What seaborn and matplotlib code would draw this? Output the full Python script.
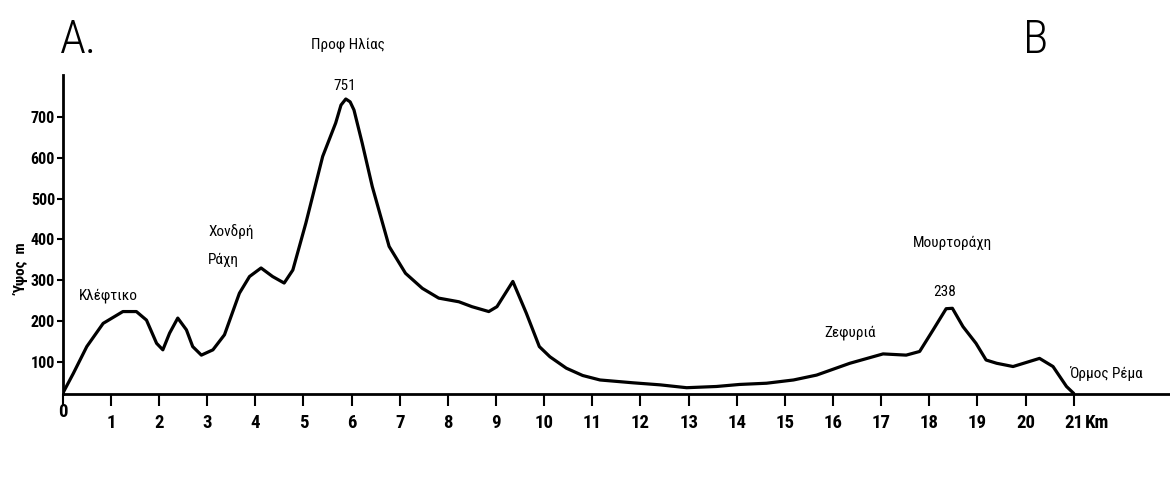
import matplotlib
matplotlib.use("Agg")
import matplotlib.pyplot as plt
import matplotlib.transforms as mtransforms
import pandas as pd
import seaborn as sns

# elevation profile
distance_km = [0, 0.22, 0.5, 0.84, 1.25, 1.53, 1.74, 1.95, 2.08, 2.22, 2.39, 2.57,
               2.70, 2.88, 3.12, 3.36, 3.67, 3.88, 4.12, 4.36, 4.60, 4.78, 5.05,
               5.40, 5.67, 5.78, 5.88, 5.97, 6.05, 6.22, 6.43, 6.78, 7.12, 7.47,
               7.81, 8.23, 8.50, 8.85, 9.02, 9.35, 9.63, 9.90, 10.12, 10.46, 10.80,
               11.16, 11.85, 12.41, 12.96, 13.58, 14.06, 14.62, 15.18, 15.66, 16.35,
               17.04, 17.52, 17.80, 18.08, 18.35, 18.48, 18.70, 18.97, 19.18, 19.40,
               19.74, 20.29, 20.57, 20.85, 21.0]
elevation_m = [22, 71, 137, 194, 223, 223, 202, 145, 129, 170, 207, 178,
               137, 116, 129, 166, 268, 309, 330, 309, 293, 325, 440,
               604, 686, 730, 745, 738, 718, 637, 530, 383, 317, 280,
               256, 247, 235, 223, 235, 297, 219, 137, 112, 84, 66,
               55, 48, 43, 36, 39, 44, 47, 55, 67, 96,
               119, 116, 125, 178, 230, 231, 186, 145, 104, 96,
               88, 108, 88, 39, 22]

x_ticks = list(range(0, 22))
x_tick_labels = [str(v) for v in x_ticks]
y_ticks = [100, 200, 300, 400, 500, 600, 700]

# place names: (label, km, elevation, alignment)
place_labels = [
    ("Προφ Ηλίας", 5.93, 878, "center"),
    ("751", 5.86, 777, "center"),
    ("Χονδρή", 3.02, 419, "left"),
    ("Ράχη", 3.02, 350, "left"),
    ("Κλέφτικο", 0.34, 261, "left"),
    ("Ζεφυριά", 15.81, 170, "left"),
    ("Μουρτοράχη", 17.66, 391, "left"),
    ("238", 18.32, 272, "center"),
    ("Όρμος Ρέμα", 20.9, 70, "left"),
]

FONTS = ["Roboto Condensed", "DejaVu Sans"]

sns.set_theme(style="white")
plt.rcParams["font.family"] = FONTS
plt.rcParams["font.stretch"] = "condensed"
plt.rcParams["text.color"] = "black"
plt.rcParams["axes.labelcolor"] = "black"

df = pd.DataFrame({"km": distance_km, "elev": elevation_m})

fig = plt.figure(figsize=(11.7, 4.79), dpi=100)
ax = fig.add_axes([0.0536, 0.1775, 0.9464, 0.666])

sns.lineplot(data=df, x="km", y="elev", color="black", linewidth=2.3,
             sort=False, ax=ax)

ax.set_xlim(0, 23.0)
ax.set_ylim(20.6, 804)
ax.set_xticks(x_ticks)
ax.set_xticklabels(x_tick_labels)
ax.set_yticks(y_ticks)
ax.set_yticklabels([str(v) for v in y_ticks])

for side in ("top", "right"):
    ax.spines[side].set_visible(False)
for side in ("left", "bottom"):
    ax.spines[side].set_color("black")
    ax.spines[side].set_linewidth(2.0)

ax.tick_params(axis="x", direction="out", length=8.5, width=1.5, pad=6,
               labelsize=13.5, colors="black", bottom=True)
ax.tick_params(axis="y", direction="out", length=4.5, width=1.5, pad=1,
               labelsize=11.5, colors="black", left=True)
for lbl in ax.get_xticklabels() + ax.get_yticklabels():
    lbl.set_fontweight("bold")

# the "0" sits a little higher than the other km labels
zero_lbl = ax.get_xticklabels()[0]
zero_lbl.set_transform(zero_lbl.get_transform()
                       + mtransforms.ScaledTranslation(0, 8 / 72, fig.dpi_scale_trans))
ax.annotate("Km", xy=(21, 0), xycoords=("data", "axes fraction"),
            xytext=(8, -14.5), textcoords="offset points", ha="left", va="top",
            fontsize=13.5, fontweight="bold")

ax.set_xlabel("")
ax.set_ylabel("Ύψος  m", fontsize=11, fontweight="bold")
ax.yaxis.set_label_coords(-0.030, 0.39)

for text, kx, ky, ha in place_labels:
    ax.text(kx, ky, text, ha=ha, va="center", fontsize=11, clip_on=False)

fig.text(0.0675, 0.917, "A.", fontsize=34, fontweight="light", ha="center", va="center")
fig.text(0.885, 0.916, "B", fontsize=34, fontweight="light", ha="center", va="center")

fig.savefig("out.png", dpi=100, facecolor="white")
